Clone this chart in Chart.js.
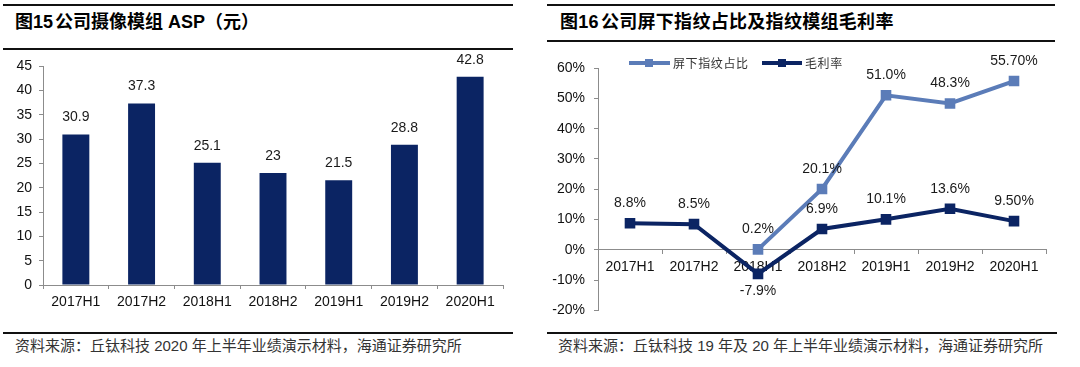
<!DOCTYPE html>
<html>
<head>
<meta charset="utf-8">
<script src="https://cdn.jsdelivr.net/npm/chart.js@4.4.1/dist/chart.umd.min.js"></script>
<style>
  body { margin: 0; background: #fff; width: 1080px; height: 367px; position: relative; overflow: hidden;
         font-family: "Liberation Sans", "Noto Sans CJK SC", sans-serif; }
  .rule { position: absolute; height: 2px; background: #111; }
  .title { position: absolute; top: 11px; font-size: 18px; font-weight: 700; line-height: 22px; color: #000; white-space: nowrap; }
  .src { position: absolute; top: 337px; font-size: 15px; line-height: 18px; color: #333; white-space: nowrap; }
  canvas { position: absolute; }
  .leg { position: absolute; top: 55px; height: 16px; font-family: "Noto Sans CJK SC"; font-size: 12px;
         letter-spacing: 0.6px; color: #333; line-height: 16px; white-space: nowrap; }
  .leg i { position: absolute; top: 6px; height: 4px; }
  .leg b { position: absolute; top: 4px; width: 8px; height: 8px; }
</style>
</head>
<body>
<div class="rule" style="left:3px;width:510px;top:4px"></div>
<div class="rule" style="left:547px;width:508px;top:4px"></div>
<div class="title" style="left:15px">图15<span style="margin-left:2px"></span>公司摄像模组 ASP（元）</div>
<div class="title" style="left:560px;letter-spacing:0.3px">图16<span style="margin-left:2px"></span>公司屏下指纹占比及指纹模组毛利率</div>
<div class="rule" style="left:3px;width:510px;top:48px"></div>
<div class="rule" style="left:547px;width:508px;top:40px"></div>

<canvas id="aspChart" width="540" height="260" style="left:0;top:50px"></canvas>
<canvas id="marginChart" width="540" height="278" style="left:540px;top:50px"></canvas>

<div class="leg" style="left:629px">
  <i style="left:0;width:41px;background:#5b7cb8"></i><b style="left:16px;background:#5b7cb8"></b>
  <span style="position:absolute;left:44px">屏下指纹占比</span>
</div>
<div class="leg" style="left:762px">
  <i style="left:0;width:40px;background:#0b2463"></i><b style="left:16px;background:#0b2463"></b>
  <span style="position:absolute;left:43px">毛利率</span>
</div>

<div class="rule" style="left:3px;width:510px;top:332px;height:1.5px"></div>
<div class="rule" style="left:547px;width:510px;top:332px;height:1.5px"></div>
<div class="src" style="left:15px">资料来源：丘钛科技 2020 年上半年业绩演示材料，海通证券研究所</div>
<div class="src" style="left:558px">资料来源：丘钛科技 19 年及 20 年上半年业绩演示材料，海通证券研究所</div>

<script>
// data
const periods = ["2017H1", "2017H2", "2018H1", "2018H2", "2019H1", "2019H2", "2020H1"];
const aspValues = [30.9, 37.3, 25.1, 23, 21.5, 28.8, 42.8];

const underDisplayShare = [null, null, 0.2, 20.1, 51.0, 48.3, 55.7];
const underDisplayText = ["", "", "0.2%", "20.1%", "51.0%", "48.3%", "55.70%"];
const grossMargin = [8.8, 8.5, -7.9, 6.9, 10.1, 13.6, 9.5];
const grossMarginText = ["8.8%", "8.5%", "-7.9%", "6.9%", "10.1%", "13.6%", "9.50%"];

const NAVY = "#0b2463";
const LIGHT = "#5b7cb8";
const AXIS = "#8c8c8c";
const tickFont = { family: "'Liberation Sans', Arial, sans-serif", size: 14 };

// draws the number above each bar / point
const valueLabels = {
  id: "valueLabels",
  afterDatasetsDraw(chart, args, opts) {
    const ctx = chart.ctx;
    ctx.save();
    ctx.font = "14px 'Liberation Sans', Arial, sans-serif";
    ctx.fillStyle = "#1a1a1a";
    ctx.textAlign = "center";
    ctx.textBaseline = "middle";
    chart.data.datasets.forEach((ds, i) => {
      const meta = chart.getDatasetMeta(i);
      meta.data.forEach((el, j) => {
        const v = ds.data[j];
        if (v === null) return;
        const text = ds.valueText ? ds.valueText[j] : String(v);
        const y = v < 0 ? el.y + opts.below : el.y - opts.above;
        ctx.fillText(text, el.x, y);
      });
    });
    ctx.restore();
  },
};

new Chart(document.getElementById("aspChart"), {
  type: "bar",
  data: {
    labels: periods,
    datasets: [
      {
        data: aspValues,
        backgroundColor: NAVY,
        barPercentage: 0.41,
        categoryPercentage: 1,
      },
    ],
  },
  options: {
    responsive: false,
    animation: false,
    layout: { padding: { left: 0, right: 37, top: 16, bottom: 0 } },
    plugins: {
      legend: { display: false },
      tooltip: { enabled: false },
      valueLabels: { above: 17, below: 17 },
    },
    scales: {
      x: {
        grid: { drawOnChartArea: false, tickLength: 4, color: AXIS },
        border: { color: AXIS },
        ticks: { font: tickFont, color: "#111", padding: 5, maxRotation: 0 },
        afterFit(scale) { scale.height = 25; },
      },
      y: {
        min: 0,
        max: 45,
        ticks: { stepSize: 5, font: tickFont, color: "#111", padding: 7 },
        grid: { drawOnChartArea: false, tickLength: 4, color: AXIS },
        border: { color: AXIS },
        afterFit(scale) { scale.width = 43; },
      },
    },
  },
  plugins: [valueLabels],
});

new Chart(document.getElementById("marginChart"), {
  type: "line",
  data: {
    labels: periods,
    datasets: [
      {
        label: "屏下指纹占比",
        data: underDisplayShare,
        valueText: underDisplayText,
        borderColor: LIGHT,
        backgroundColor: LIGHT,
        borderWidth: 4,
        pointStyle: "rect",
        pointRadius: 7.5,
        pointBorderWidth: 0,
        tension: 0,
      },
      {
        label: "毛利率",
        data: grossMargin,
        valueText: grossMarginText,
        borderColor: NAVY,
        backgroundColor: NAVY,
        borderWidth: 4,
        pointStyle: "rect",
        pointRadius: 7.5,
        pointBorderWidth: 0,
        tension: 0,
      },
    ],
  },
  options: {
    responsive: false,
    animation: false,
    layout: { padding: { left: 0, right: 34, top: 18, bottom: 0 } },
    plugins: {
      legend: { display: false },
      tooltip: { enabled: false },
      valueLabels: { above: 20, below: 17 },
    },
    scales: {
      x: {
        position: { y: 0 },
        offset: true,
        grid: { offset: true, drawOnChartArea: false, tickLength: 4, color: AXIS },
        border: { color: AXIS },
        ticks: { font: tickFont, color: "#111", padding: 5, maxRotation: 0 },
      },
      y: {
        min: -20,
        max: 60,
        ticks: { stepSize: 10, font: tickFont, color: "#111", padding: 9, callback: (v) => v + "%" },
        grid: { drawOnChartArea: false, tickLength: 4, color: AXIS },
        border: { color: AXIS },
        afterFit(scale) { scale.width = 58; },
      },
    },
  },
  plugins: [valueLabels],
});
</script>
</body>
</html>
